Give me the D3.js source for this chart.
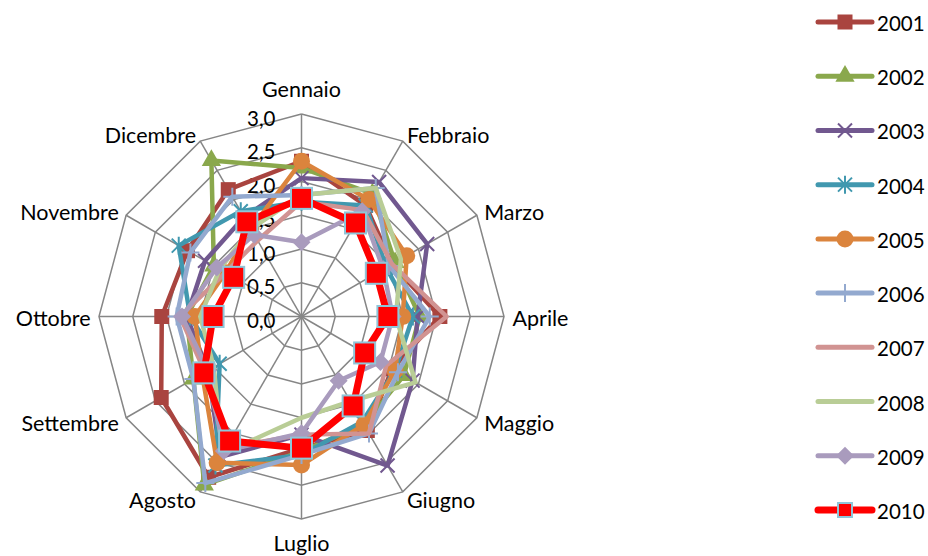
<!DOCTYPE html>
<html><head><meta charset="utf-8">
<script src="https://cdn.jsdelivr.net/npm/d3@7"></script>
<style>body{margin:0;background:#fff}svg{display:block}text{font-family:Lato,"Open Sans",sans-serif;fill:#000}</style>
</head><body><svg id="c" width="928" height="556"></svg>
<script>
const months = ["Gennaio","Febbraio","Marzo","Aprile","Maggio","Giugno","Luglio","Agosto","Settembre","Ottobre","Novembre","Dicembre"];
const years = ["2001","2002","2003","2004","2005","2006","2007","2008","2009","2010"];
const ticks = [0,0.5,1,1.5,2,2.5,3];
const s2001 = [2.3,1.9,1.55,2.05,1.55,1.95,1.95,2.75,2.4,2.07,1.95,2.17];
const s2002 = [2.2,2.1,1.6,1.75,1.75,1.85,2.0,2.88,1.85,1.7,1.5,2.67];
const s2003 = [2.05,2.3,2.15,1.72,1.9,2.55,1.75,2.4,1.6,1.7,1.65,1.7];
const s2004 = [1.7,1.9,1.45,1.65,1.6,1.8,2.05,2.55,1.4,1.65,2.1,1.8];
const s2005 = [2.3,2.0,1.8,1.5,1.6,1.85,2.2,2.5,1.7,1.58,1.3,1.5];
const s2006 = [1.8,2.2,1.5,1.9,1.65,2.0,2.05,2.85,1.85,1.85,1.9,2.05];
const s2007 = [1.7,1.82,1.55,2.15,1.45,2.0,1.75,2.25,1.65,1.8,1.3,1.3];
const s2008 = [1.8,2.2,1.7,1.4,1.95,1.45,1.5,2.35,1.5,1.5,1.4,1.5];
const s2009 = [1.1,1.8,1.4,1.35,1.35,1.1,1.73,2.3,1.6,1.77,1.45,1.4];
const s2010 = [1.75,1.6,1.28,1.28,1.08,1.53,1.95,2.13,1.67,1.31,1.16,1.62];
const values = [s2001,s2002,s2003,s2004,s2005,s2006,s2007,s2008,s2009,s2010];
const colors = ["#A9443F","#8AA84C","#71588F","#4198AF","#DB843D","#93A9CF","#D19392","#B9CD96","#A99BBD","#FF0000"];
const markers = ["square","triangle","x","asterisk","circle","plus","none","none","diamond","bigsquare"];

const svg = d3.select("#c");
const cx = 301.5, cy = 316.5;
const r = d3.scaleLinear().domain([0,3]).range([0,202.5]);
const ang = d3.scalePoint().domain(months).range([0, 2*Math.PI*11/12]);
const pt = (m,v) => { const a = ang(m); return [cx + r(v)*Math.sin(a), cy - r(v)*Math.cos(a)]; };

const grid = svg.append("g");
ticks.slice(1).forEach(t => {
  grid.append("path").attr("d", d3.line()(months.map(m=>pt(m,t)).concat([pt(months[0],t)])))
    .attr("fill","none").attr("stroke","#868686").attr("stroke-width",1.5);
});
months.forEach(m => {
  const [x,y] = pt(m,3);
  grid.append("line").attr("x1",cx).attr("y1",cy).attr("x2",x).attr("y2",y).attr("stroke","#868686").attr("stroke-width",1.5);
});

const fmt = d3.format(".1f");
ticks.forEach(t => {
  svg.append("text").attr("x", cx-26).attr("y", cy - r(t) + 3.5).attr("text-anchor","end")
    .attr("dominant-baseline","central").attr("font-size",20.5).text(fmt(t).replace(".",","));
});

months.forEach(m => {
  const a = ang(m); const R = 211;
  let x = cx + R*Math.sin(a), y = cy - R*Math.cos(a);
  const s = Math.sin(a), c = Math.cos(a);
  let anchor = Math.abs(s) < 0.01 ? "middle" : (s > 0 ? "start" : "end");
  if (Math.abs(s) < 0.01) y += c > 0 ? -18 : 14;
  y += 1;
  svg.append("text").attr("x",x).attr("y",y).attr("text-anchor",anchor).attr("dominant-baseline","central")
    .attr("font-size",21.5).text(m);
});

function drawMarker(g, type, x, y, col, legend) {
  if (type==="square") g.append("rect").attr("x",x-7.5).attr("y",y-7.5).attr("width",15).attr("height",15).attr("fill",col);
  else if (type==="bigsquare") { const h = legend ? 7 : 10.5;
    g.append("rect").attr("x",x-h).attr("y",y-h).attr("width",2*h).attr("height",2*h).attr("fill","#FF0000").attr("stroke","#8FC6D9").attr("stroke-width",2); }
  else if (type==="triangle") g.append("path").attr("d",d3.symbol(d3.symbolTriangle, 160)()).attr("transform",`translate(${x},${y})`).attr("fill",col);
  else if (type==="circle") g.append("circle").attr("cx",x).attr("cy",y).attr("r",8.5).attr("fill",col);
  else if (type==="diamond") g.append("path").attr("d",`M${x},${y-9}L${x+9},${y}L${x},${y+9}L${x-9},${y}Z`).attr("fill",col);
  else if (type==="x") g.append("path").attr("d",`M${x-7},${y-7}L${x+7},${y+7}M${x-7},${y+7}L${x+7},${y-7}`).attr("stroke",col).attr("stroke-width",2);
  else if (type==="asterisk") g.append("path").attr("d",`M${x-7},${y-7}L${x+7},${y+7}M${x-7},${y+7}L${x+7},${y-7}M${x},${y-9}L${x},${y+9}`).attr("stroke",col).attr("stroke-width",2);
  else if (type==="plus") g.append("path").attr("d",`M${x},${y-9}L${x},${y+9}M${x-9},${y}L${x+9},${y}`).attr("stroke",col).attr("stroke-width",2);
}

const line = d3.line().curve(d3.curveLinearClosed);
years.forEach((yr,i) => {
  const g = svg.append("g");
  const pts = months.map((m,j)=>pt(m,values[i][j]));
  g.append("path").attr("d", line(pts)).attr("fill","none").attr("stroke",colors[i])
    .attr("stroke-width", i===9 ? 7 : 4.5).attr("stroke-linejoin","round");
  pts.forEach(p => drawMarker(g, markers[i], p[0], p[1], colors[i], false));
});

const ly = d3.scalePoint().domain(years).range([22,510]);
years.forEach((yr,i) => {
  const y = ly(yr);
  const g = svg.append("g");
  g.append("line").attr("x1",818).attr("x2",872).attr("y1",y).attr("y2",y).attr("stroke",colors[i])
    .attr("stroke-width", i===9 ? 7 : 5).attr("stroke-linecap","round");
  drawMarker(g, markers[i], 845, y, colors[i], true);
  g.append("text").attr("x",877).attr("y",y+1).attr("dominant-baseline","central").attr("font-size",20.5).text(yr);
});
</script></body></html>
